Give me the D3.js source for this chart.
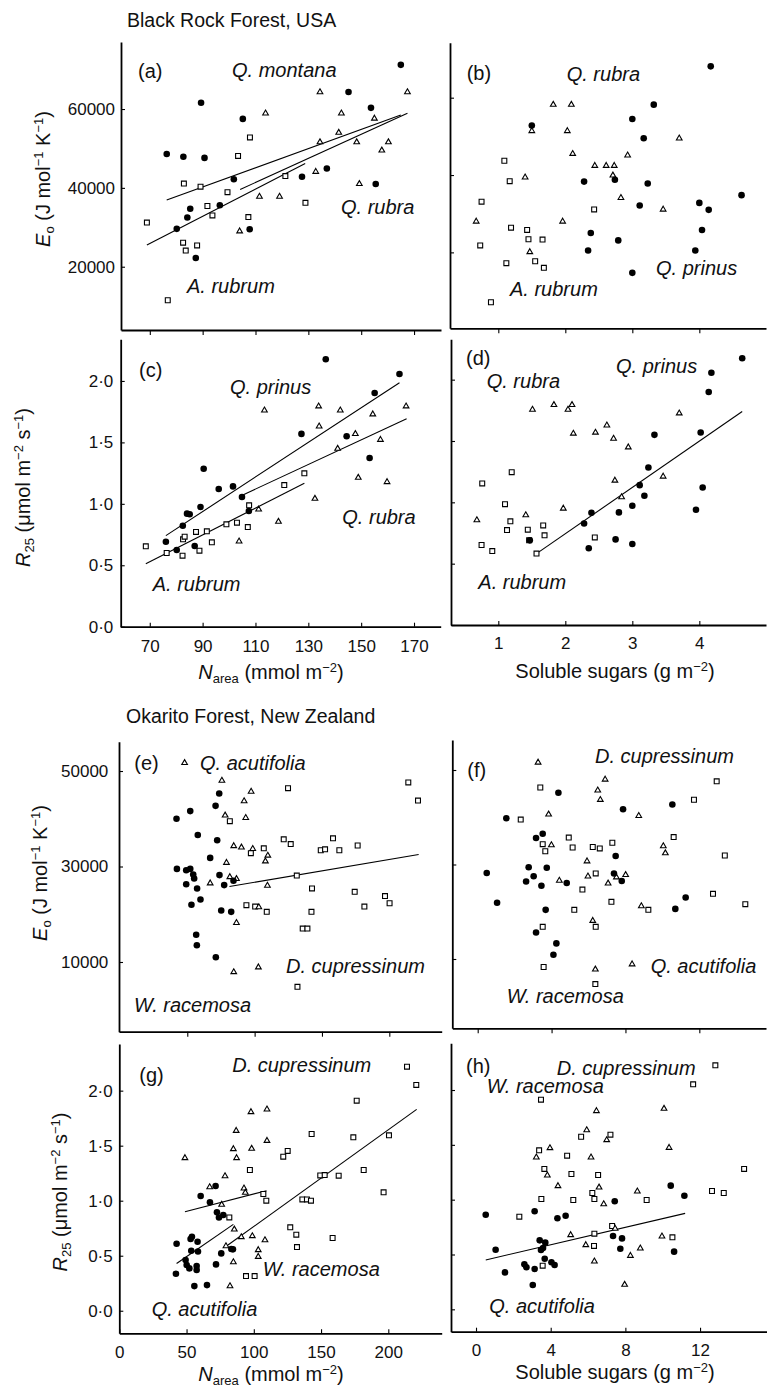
<!DOCTYPE html>
<html><head><meta charset="utf-8">
<script src="https://cdn.jsdelivr.net/npm/d3@7"></script>
<style>body{margin:0;background:#fff} svg{display:block}</style>
</head><body><svg id="c" width="767" height="1390"></svg>
<script>
// ---------- DATA (marker order: filled circle, open triangle, open square) ----------
// Black Rock Forest: circles = Q. prinus (montana), triangles = Q. rubra, squares = A. rubrum
const a_circ = [[76.4,48600],[82.7,47900],[89.4,61600],[90.7,47600],[85.3,34700],[84.2,32500],[80.2,29600],[87.4,22200],[96.5,35600],[101.8,42200],[105.2,57500],[107.8,29500],[127.6,42800],[137.0,44900],[145.2,64300],[153.7,60300],[155.5,41000],[165.0,71200]];
const a_tri = [[113.8,58900],[104.0,29000],[111.5,37800],[119.1,37800],[132.8,44100],[134.4,64300],[134.4,51600],[141.5,54000],[142.5,58900],[148.3,51600],[149.3,41000],[155.0,57600],[157.8,49500],[160.3,51600],[167.5,64300]];
const a_sq = [[68.9,31200],[76.8,11500],[82.9,41100],[82.6,26100],[83.6,24100],[87.9,25400],[89.2,40300],[91.8,35400],[93.7,33000],[99.4,38900],[103.4,48100],[107.3,32600],[107.9,52800],[121.3,43000],[128.9,36200]];
const a_fits = [[76.4,36900,165.0,58500],[68.9,25500,128.8,46200],[104.2,39600,167.5,58900]];

const b_circ = [[1.50,52800],[2.28,38300],[2.38,25000],[2.34,20500],[2.74,38800],[2.79,23100],[3.00,54500],[3.00,14700],[3.11,32100],[3.17,49500],[3.23,37800],[3.32,58200],[3.94,20500],[4.00,32800],[4.04,25800],[4.14,31000],[4.17,68100],[4.63,34800]];
const b_tri = [[0.67,28000],[1.40,39400],[1.50,51400],[1.47,20100],[1.82,58200],[1.96,28000],[2.03,51400],[2.09,58200],[2.11,45500],[2.44,42400],[2.61,42400],[2.73,42400],[2.71,39900],[2.83,34100],[2.93,45100],[3.46,31100],[3.70,49500]];
const b_sq = [[0.73,21800],[0.75,33100],[0.89,7100],[1.09,43700],[1.12,17200],[1.17,38400],[1.19,26400],[1.43,25800],[1.45,23400],[1.55,17700],[1.66,23300],[1.68,16000],[2.43,31100]];
const b_fits = [];

const c_circ = [[76.1,0.692],[80.2,0.624],[82.5,0.822],[84.1,0.920],[85.1,0.915],[87.0,0.657],[89.2,0.974],[90.4,1.286],[96.1,1.121],[101.5,1.142],[104.9,1.056],[107.5,0.942],[127.4,1.569],[136.6,2.176],[144.5,1.550],[153.2,1.373],[155.1,1.902],[164.5,2.057]];
const c_tri = [[103.8,0.695],[111.2,0.955],[113.4,1.761],[118.7,0.855],[132.5,1.042],[133.9,1.794],[134.1,1.631],[142.1,1.761],[141.1,1.449],[147.8,1.569],[148.9,1.213],[154.4,1.729],[157.3,1.522],[159.8,1.178],[167.0,1.794]];
const c_sq = [[68.5,0.654],[76.4,0.600],[82.4,0.578],[82.6,0.711],[83.2,0.733],[87.5,0.771],[88.8,0.619],[91.6,0.776],[93.5,0.687],[99.0,0.833],[103.0,0.847],[107.1,0.811],[107.6,0.988],[120.9,1.153],[128.5,1.248]];
const c_fits = [[76.1,0.741,164.5,1.986],[103.8,1.058,167.2,1.693],[68.5,0.513,128.5,1.167]];

const d_circ = [[1.47,0.690],[2.28,0.828],[2.35,0.625],[2.39,0.915],[2.75,0.698],[2.80,0.918],[3.00,0.972],[3.00,0.660],[3.11,1.140],[3.18,1.053],[3.24,1.284],[3.33,1.550],[3.95,0.940],[4.02,1.569],[4.05,1.121],[4.14,1.900],[4.18,2.057],[4.64,2.174]];
const d_tri = [[0.68,0.855],[1.41,0.896],[1.51,1.756],[1.83,1.794],[2.04,1.756],[2.10,1.794],[2.12,1.561],[1.97,0.950],[2.45,1.569],[2.62,1.628],[2.72,1.520],[2.74,1.178],[2.84,1.043],[2.94,1.449],[3.46,1.211],[3.70,1.726]];
const d_sq = [[0.75,0.652],[0.76,1.154],[0.91,0.603],[1.10,0.985],[1.13,0.774],[1.18,0.845],[1.20,1.246],[1.44,0.777],[1.46,0.690],[1.67,0.812],[1.69,0.731],[1.57,0.582],[2.44,0.714]];
const d_fits = [[1.57,0.582,4.64,1.740]];

// Okarito Forest
const e_circ = [[42.0,40000],[49.2,26300],[49.2,29200],[42.3,29500],[52.2,29500],[52.2,41600],[54.4,28300],[55.1,27500],[53.1,22000],[57.3,25400],[57.8,36600],[59.8,23100],[56.6,15700],[57.1,13500],[67.0,31800],[71.0,42700],[71.2,11000],[72.2,35500],[73.7,45300],[73.9,28200],[75.2,20800],[77.4,26100],[82.6,20500],[84.3,27000]];
const e_tri = [[48.0,51700],[67.0,26500],[75.7,48000],[78.1,40700],[79.1,30800],[81.6,27800],[84.5,34300],[86.5,27400],[86.5,18200],[84.5,7900],[90.2,34000],[92.2,43700],[93.4,40200],[97.4,45700],[98.6,33700],[103.1,21500],[102.8,8900],[108.0,31100],[109.8,32300],[109.5,26000]];
const e_sq = [[81.6,39500],[97.2,32800],[93.9,21900],[100.4,21600],[106.8,33800],[109.0,20500],[121.6,35700],[124.8,46400],[126.8,34700],[131.3,28100],[131.8,4800],[135.7,17000],[139.2,17000],[142.6,25400],[142.2,20500],[149.1,33400],[152.3,33600],[158.2,35900],[162.9,33400],[174.3,24700],[176.5,34400],[181.5,21600],[196.8,23800],[200.2,22300],[214.1,47600],[221.3,43800]];
const e_fits = [[81.3,25800,221.8,32500]];

const f_circ = [[0.49,28200],[1.05,21900],[1.55,39800],[2.62,26400],[2.76,29400],[3.03,27500],[3.16,35600],[3.16,15600],[3.45,25500],[3.52,36500],[3.68,20400],[3.74,29300],[4.26,13300],[4.10,10900],[4.37,45200],[4.82,26100],[7.47,31800],[7.38,28100],[7.80,26500],[7.87,41700],[10.54,42700],[10.70,20600],[11.26,23000]];
const f_tri = [[3.27,51600],[3.84,40600],[3.99,34100],[4.42,26600],[5.92,30700],[5.97,27500],[6.23,18100],[6.37,7800],[6.50,45700],[6.64,43700],[6.90,48000],[7.06,26000],[7.51,27300],[8.01,27800],[8.36,8900],[8.72,40300],[8.86,21200],[10.05,33900],[10.16,32400]];
const f_sq = [[2.33,39500],[3.39,46300],[3.52,34300],[3.52,16800],[3.57,8300],[3.66,32800],[4.93,35700],[5.14,33600],[5.23,20400],[5.67,24700],[6.23,33700],[6.39,28100],[6.39,16800],[6.37,4700],[6.61,33400],[7.24,22100],[7.29,34600],[9.24,20400],[10.61,35800],[11.71,43700],[12.74,23800],[12.94,47600],[13.38,31900],[14.49,21600]];
const f_fits = [];

const g_circ = [[42.6,0.609],[42.1,0.336],[49.3,0.461],[50.1,0.415],[52.1,0.385],[53.0,0.652],[54.0,0.673],[53.5,0.545],[57.5,0.406],[57.5,0.370],[58.5,0.539],[58.2,0.627],[55.8,0.224],[60.5,1.042],[65.2,0.233],[67.4,0.985],[71.9,0.421],[71.6,1.133],[72.6,0.894],[74.1,0.848],[75.8,0.521],[77.3,0.870],[83.3,0.561],[84.5,0.558]];
const g_tri = [[48.8,1.388],[67.2,1.124],[76.1,0.964],[78.6,1.224],[79.3,0.588],[82.3,0.224],[84.8,1.470],[84.8,0.442],[85.5,0.739],[86.9,1.636],[87.2,1.388],[90.7,0.670],[92.7,1.112],[93.7,1.073],[97.9,1.806],[98.4,1.473],[98.9,0.679],[103.3,0.552],[103.3,0.491],[108.3,0.642],[109.8,1.830],[109.8,1.545]];
const g_sq = [[81.8,0.848],[94.2,0.315],[97.1,1.279],[100.6,0.315],[107.1,1.061],[109.3,1.000],[121.9,1.400],[125.2,1.452],[127.1,0.758],[131.6,0.691],[132.1,0.579],[136.1,1.012],[139.5,1.012],[142.5,1.000],[143.0,1.606],[149.4,1.230],[152.7,1.233],[158.6,0.661],[163.1,1.227],[174.0,1.576],[176.5,1.909],[181.7,1.279],[196.5,1.076],[200.5,1.594],[213.9,2.218],[220.8,2.052]];
const g_fits = [[48.8,0.900,109.5,1.091],[42.6,0.430,84.8,0.785],[80.8,0.597,221.1,1.830]];

const h_circ = [[0.52,0.863],[1.05,0.544],[1.55,0.337],[2.59,0.410],[2.70,0.383],[3.04,0.222],[3.14,0.368],[3.14,0.894],[3.41,0.629],[3.48,0.541],[3.59,0.559],[3.68,0.462],[3.71,0.608],[4.04,0.429],[4.21,0.404],[4.36,0.830],[4.80,0.854],[7.34,0.669],[7.43,0.985],[7.82,0.647],[7.73,0.553],[10.43,1.128],[10.61,0.526],[11.16,1.036]];
const h_tri = [[3.23,1.386],[3.82,1.222],[3.96,1.471],[4.39,1.125],[5.07,0.678],[5.88,0.587],[5.93,1.635],[6.16,1.386],[6.34,0.438],[6.45,1.809],[6.59,1.112],[6.84,0.960],[7.00,1.544],[7.45,0.736],[7.96,0.225],[8.27,0.489],[8.64,1.076],[8.80,0.556],[9.96,0.666],[10.07,1.830],[10.34,1.474]];
const h_sq = [[2.32,0.845],[3.38,1.450],[3.48,1.912],[3.50,1.006],[3.57,0.398],[3.66,1.280],[4.88,1.401],[5.11,1.234],[5.21,0.997],[5.63,1.574],[6.23,1.061],[6.34,1.006],[6.34,0.690],[6.32,0.578],[6.54,1.225],[7.20,1.593],[7.29,0.760],[9.14,0.997],[10.52,0.657],[11.63,2.052],[12.64,1.079],[12.82,2.225],[13.27,1.061],[14.36,1.280]];
const h_fits = [[0.52,0.450,11.20,0.875]];

// tick values
const ticksNarea = [70,90,110,130,150,170];
const ticksSugarUSA = [1,2,3,4];
const ticksNareaNZ = [0,50,100,150,200];
const ticksSugarNZ = [0,4,8,12];
const ticksEoUSA = [20000,40000,60000];
const ticksEoNZ = [10000,30000,50000];
const ticksR25 = [0,0.5,1.0,1.5,2.0];

// ---------- LAYOUT ----------
const FONT = "'Liberation Sans', Arial, Helvetica, sans-serif";
const svg = d3.select("#c");
const fmtR = d => d.toFixed(1).replace(".", "\u00B7");
const fmtE = d3.format("d");

const panels = [
 {letter:"(a)", box:[121,441,42,330], xd:[59.1,180.2], yd:[3950,77000], xt:ticksNarea, yt:ticksEoUSA, xl:false, yl:true, yf:fmtE, xOut:true, ypad:6,
  data:[a_circ,a_tri,a_sq], fits:a_fits, lp:[138,78],
  labels:[["Q. montana",232,77],["Q. rubra",341,214],["A. rubrum",187,293]]},
 {letter:"(b)", box:[450,766,42.7,328.3], xd:[0.279,4.995], yd:[367,74220], xt:ticksSugarUSA, yt:ticksEoUSA, xl:false, yl:false, xOut:true,
  data:[b_circ,b_tri,b_sq], fits:b_fits, lp:[466.7,80],
  labels:[["Q. rubra",566.7,81],["A. rubrum",510,296],["Q. prinus",656,275]]},
 {letter:"(c)", box:[120.7,440.7,339.3,626.7], xd:[59.0,180.1], yd:[0,2.339], xt:ticksNarea, yt:ticksR25, xl:true, yl:true, yf:fmtR, xpad:13, ypad:7.4,
  data:[c_circ,c_tri,c_sq], fits:c_fits, lp:[139,376.7],
  labels:[["Q. prinus",230,394.3],["Q. rubra",342.3,524.3],["A. rubrum",152.7,591]]},
 {letter:"(d)", box:[451,766,339.3,625], xd:[0.294,4.995], yd:[0,2.329], xt:ticksSugarUSA, yt:ticksR25, xl:true, yl:false, xpad:11.5,
  data:[d_circ,d_tri,d_sq], fits:d_fits, lp:[466,365],
  labels:[["Q. prinus",616,372.7],["Q. rubra",486.7,388.3],["A. rubrum",478.3,589.3]]},
 {letter:"(e)", box:[119,441.7,741.7,1031.7], xd:[-0.7,238.9], yd:[-4600,56140], xt:ticksNareaNZ.slice(1), yt:ticksEoNZ, xl:false, yl:true, yf:fmtE, xOut:true, ypad:10.7,
  data:[e_circ,e_tri,e_sq], fits:e_fits, lp:[134.3,770],
  labels:[["Q. acutifolia",200,770],["D. cupressinum",286,973.3],["W. racemosa",134,1011.7]]},
 {letter:"(f)", box:[452.3,766,740,1028.3], xd:[-1.375,15.61], yd:[-4670,56350], xt:ticksSugarNZ, yt:ticksEoNZ, xl:false, yl:false, xOut:true,
  data:[f_circ,f_tri,f_sq], fits:f_fits, lp:[467.3,777.3],
  labels:[["D. cupressinum",595,763.3],["Q. acutifolia",650.7,973.3],["W. racemosa",506.7,1003.3]]},
 {letter:"(g)", box:[119.3,441.7,1044,1333.3], xd:[0,239.7], yd:[-0.205,2.424], xt:ticksNareaNZ, yt:ticksR25, xl:true, yl:true, yf:fmtR, xpad:13, ypad:6.6,
  data:[g_circ,g_tri,g_sq], fits:g_fits, lp:[139.3,1081.7],
  labels:[["D. cupressinum",232.3,1071.7],["W. racemosa",262.7,1276],["Q. acutifolia",151.7,1316]]},
 {letter:"(h)", box:[451,766.7,1043.3,1331.7], xd:[-1.34,15.57], yd:[-0.204,2.426], xt:ticksSugarNZ, yt:ticksR25, xl:true, yl:false, xpad:12,
  data:[h_circ,h_tri,h_sq], fits:h_fits, lp:[466,1073.3],
  labels:[["D. cupressinum",556.7,1075],["W. racemosa",486.7,1092.7],["Q. acutifolia",489.3,1312.7]]}
];

const symCirc = d3.symbol().type(d3.symbolCircle).size(34)();
const symTri = d3.symbol().type(d3.symbolTriangle).size(14)();
const symSq = d3.symbol().type(d3.symbolSquare).size(24)();

panels.forEach(p => {
  const [x0,x1,y0,y1] = p.box;
  const x = d3.scaleLinear().domain(p.xd).range([x0,x1]);
  const y = d3.scaleLinear().domain(p.yd).range([y1,y0]);
  const g = svg.append("g");

  const xa = d3.axisBottom(x).tickValues(p.xt).tickSizeOuter(0)
     .tickSizeInner(p.xOut ? 5 : -4).tickPadding(p.xpad || 3)
     .tickFormat(p.xl ? d3.format("d") : () => "");
  const gx = g.append("g").attr("transform", `translate(0,${y1})`).call(xa);
  const ya = d3.axisLeft(y).tickValues(p.yt).tickSizeOuter(0).tickSizeInner(-4)
     .tickPadding(p.ypad || 3).tickFormat(p.yl ? p.yf : () => "");
  const gy = g.append("g").attr("transform", `translate(${x0},0)`).call(ya);
  [gx, gy].forEach(a => {
    a.select(".domain").attr("stroke","#000").attr("stroke-width",1.8);
    a.selectAll(".tick line").attr("stroke","#000").attr("stroke-width",1.1);
    a.selectAll(".tick text").attr("fill","#111").style("font-family",FONT).style("font-size","17px");
  });

  g.selectAll(null).data(p.fits).join("line")
    .attr("x1", d => x(d[0])).attr("y1", d => y(d[1]))
    .attr("x2", d => x(d[2])).attr("y2", d => y(d[3]))
    .attr("stroke","#000").attr("stroke-width",1.1);

  const [circ, tri, sq] = p.data;
  g.selectAll(null).data(sq).join("path").attr("d", symSq)
    .attr("transform", d => `translate(${x(d[0])},${y(d[1])})`)
    .attr("fill","#fff").attr("stroke","#000").attr("stroke-width",1.1);
  g.selectAll(null).data(tri).join("path").attr("d", symTri)
    .attr("transform", d => `translate(${x(d[0])},${y(d[1])})`)
    .attr("fill","#fff").attr("stroke","#000").attr("stroke-width",1.1);
  g.selectAll(null).data(circ).join("path").attr("d", symCirc)
    .attr("transform", d => `translate(${x(d[0])},${y(d[1])})`)
    .attr("fill","#000");

  g.append("text").attr("x", p.lp[0]).attr("y", p.lp[1]).text(p.letter)
    .style("font-family",FONT).style("font-size","20px").attr("fill","#111");
  g.selectAll(null).data(p.labels).join("text")
    .attr("x", d => d[1]).attr("y", d => d[2]).text(d => d[0])
    .style("font-family",FONT).style("font-size","20px").style("font-style","italic").attr("fill","#111");
});

// ---------- titles ----------
function rich(sel, parts) {
  let cur = 0;
  parts.forEach(pt => {
    const target = pt.sup ? -7 : (pt.sub ? 4 : 0);
    const t = sel.append("tspan").text(pt.t).attr("dy", target - cur);
    cur = target;
    if (pt.i) t.style("font-style","italic");
    if (pt.sup || pt.sub) t.style("font-size","13px");
  });
}
function title(x, y, parts, rot) {
  const t = svg.append("text").attr("text-anchor","middle")
    .style("font-family",FONT).style("font-size","20px").attr("fill","#111");
  if (rot) t.attr("transform", `translate(${x},${y}) rotate(-90)`);
  else t.attr("x", x).attr("y", y);
  rich(t, parts);
}
const EoParts = [{t:"E",i:1},{t:"o",sub:1},{t:" (J mol"},{t:"\u22121",sup:1},{t:" K"},{t:"\u22121",sup:1},{t:")"}];
const R25Parts = [{t:"R",i:1},{t:"25",sub:1},{t:" (\u03BCmol m"},{t:"\u22122",sup:1},{t:" s"},{t:"\u22121",sup:1},{t:")"}];
const NParts = [{t:"N",i:1},{t:"area",sub:1},{t:" (mmol m"},{t:"\u22122",sup:1},{t:")"}];
const SParts = [{t:"Soluble sugars (g m"},{t:"\u22122",sup:1},{t:")"}];

title(50, 179, EoParts, true);
title(29.5, 487.5, R25Parts, true);
title(46.7, 873, EoParts, true);
title(66.7, 1192, R25Parts, true);
title(271, 679, NParts, false);
title(615, 678, SParts, false);
title(271, 1381, NParts, false);
title(615, 1379, SParts, false);

svg.append("text").attr("x",127).attr("y",26.7).text("Black Rock Forest, USA")
  .style("font-family",FONT).style("font-size","19.5px").attr("fill","#111");
svg.append("text").attr("x",126).attr("y",722.7).text("Okarito Forest, New Zealand")
  .style("font-family",FONT).style("font-size","19.5px").attr("fill","#111");
</script></body></html>
